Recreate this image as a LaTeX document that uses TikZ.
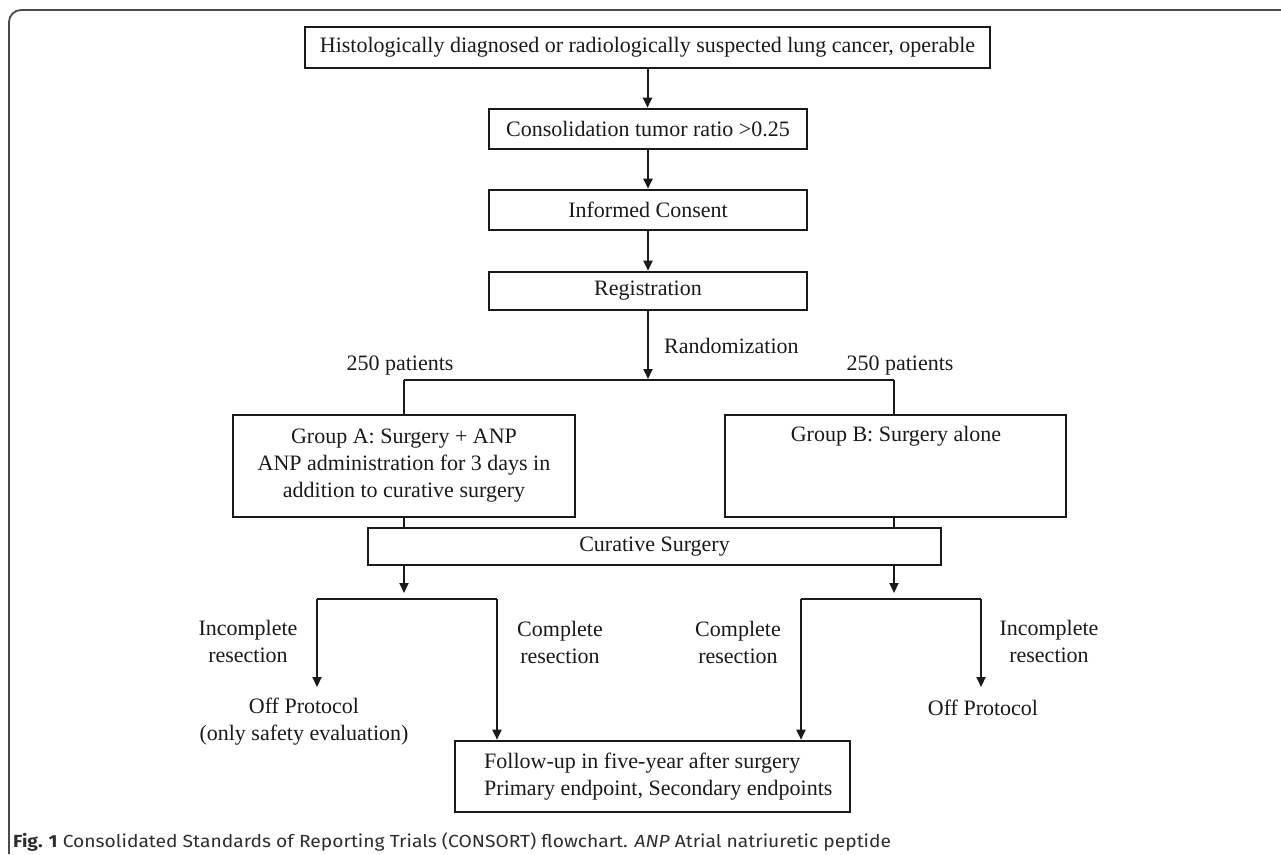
\documentclass[tikz,border=0pt]{standalone}
\usepackage{fontspec}
\setmainfont{Liberation Serif}
\newfontfamily\capfont{Fira Sans}
\usetikzlibrary{arrows.meta}
\definecolor{ink}{HTML}{1A1A1A}
\definecolor{framegray}{HTML}{4A4A4A}
\definecolor{capgray}{HTML}{2E2E2E}
\begin{document}
\begin{tikzpicture}[x=1pt,y=-1pt,
  every node/.style={font=\fontsize{22}{27}\selectfont, text=ink},
  box/.style={draw=ink, line width=2.6pt, inner sep=0pt, align=center},
  conn/.style={draw=ink, line width=2pt},
  arr/.style={conn, -{Triangle[length=10pt,width=9pt]}},
  lbl/.style={inner sep=0pt, align=center},
  frameline/.style={draw=framegray, line width=1.8pt}
]
\useasboundingbox (0,0) rectangle (1281,854);
% frame
\coordinate (fbl) at (9,854);
\coordinate (ftl) at (9,10);
\coordinate (ftr) at (1281,10);
\draw[frameline, rounded corners=12pt] (fbl) -- (ftl) -- (ftr);

% boxes
\node[box, minimum width=685pt, minimum height=41pt] (top) at (647.5,47.5)
  {Histologically diagnosed or radiologically suspected lung cancer, operable};
\node[box, minimum width=318pt, minimum height=40pt] (cons) at (648,129)
  {Consolidation tumor ratio >0.25};
\node[box, minimum width=318pt, minimum height=40pt] (inf) at (648,210)
  {Informed Consent};
\node[box, minimum width=318pt, minimum height=38pt] (reg) at (648,291)
  {Registration};
\node[box, minimum width=342pt, minimum height=102pt] (grpA) at (404,466)
  {Group A: Surgery + ANP\\ANP administration for 3 days in\\addition to curative surgery};
\node[box, minimum width=341pt, minimum height=102pt] (grpB) at (895.5,466) {};
\node[lbl] (grpBt) at (896,436) {Group B: Surgery alone};
\node[box, minimum width=573pt, minimum height=37pt] (cur) at (654.5,546.5)
  {Curative Surgery};
\node[box, minimum width=395pt, minimum height=71pt] (fu) at (652.5,776.5) {};
\node[lbl, align=left, anchor=west] (fut) at (484,777)
  {Follow-up in five-year after surgery\\Primary endpoint, Secondary endpoints};

% labels
\node[lbl, anchor=west] (rand) at (664,346) {Randomization};
\node[lbl] (pl) at (400,366) {250 patients};
\node[lbl] (pr) at (900,366) {250 patients};
\node[lbl] (incl) at (248,641) {Incomplete\\resection};
\node[lbl] (coml) at (560,642) {Complete\\resection};
\node[lbl] (comr) at (738,642) {Complete\\resection};
\node[lbl] (incr) at (1049,641) {Incomplete\\resection};
\node[lbl] (offl) at (304,722) {Off Protocol\\(only safety evaluation)};
\node[lbl] (offr) at (983,708) {Off Protocol};

% coordinates for connectors
\coordinate (rtip) at (648,379);
\coordinate (hl) at (404,380);
\coordinate (hr) at (894,380);
\coordinate (ctl) at (404,593);
\coordinate (ctr) at (894,593);
\coordinate (bl1) at (317,599);
\coordinate (bl2) at (497,599);
\coordinate (br1) at (801,599);
\coordinate (br2) at (981,599);
\coordinate (offlt) at (317,687);
\coordinate (offrt) at (981,687);

% connectors
\draw[arr] (top.south) -- (top.south |- cons.north);
\draw[arr] (cons) -- (inf);
\draw[arr] (inf) -- (reg);
\draw[arr] (reg.south) -- (rtip);
\draw[conn] (hl) -- (hr);
\draw[conn] (hl) -- (hl |- grpA.north);
\draw[conn] (hr) -- (hr |- grpB.north);
\draw[conn] (hl |- grpA.south) -- (hl |- cur.north);
\draw[conn] (hr |- grpB.south) -- (hr |- cur.north);
\draw[arr] (hl |- cur.south) -- (ctl);
\draw[arr] (hr |- cur.south) -- (ctr);
\draw[conn] (bl1) -- (bl2);
\draw[conn] (br1) -- (br2);
\draw[arr] (bl1) -- (offlt);
\draw[arr] (bl2) -- (bl2 |- fu.north);
\draw[arr] (br1) -- (br1 |- fu.north);
\draw[arr] (br2) -- (offrt);

% caption
\node[inner sep=0pt, anchor=west, text=capgray] (cap) at (13,842)
  {\scalebox{1.1}[1]{\capfont\fontsize{17.5}{20}\selectfont\textbf{Fig. 1} Consolidated Standards of Reporting Trials (CONSORT) flowchart. \textit{ANP} Atrial natriuretic peptide}};
\end{tikzpicture}
\end{document}
